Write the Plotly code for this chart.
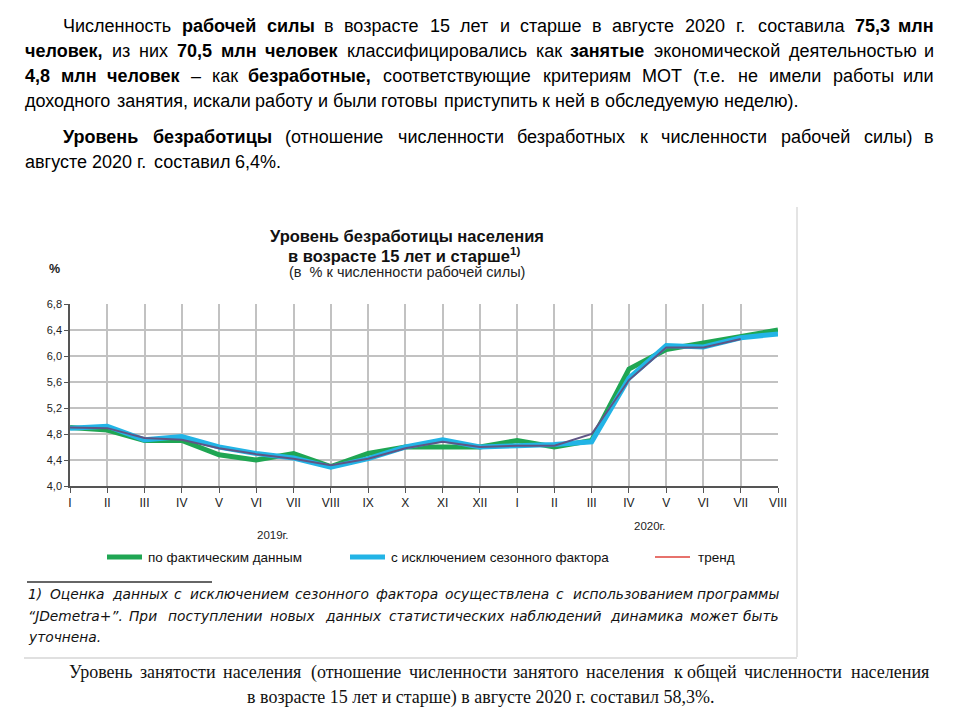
import plotly.graph_objects as go

# ---------------- data ----------------
MONTHS = ["I", "II", "III", "IV", "V", "VI", "VII", "VIII", "IX", "X", "XI", "XII",
          "I", "II", "III", "IV", "V", "VI", "VII", "VIII"]
ACTUAL = [4.9, 4.86, 4.7, 4.7, 4.48, 4.4, 4.5, 4.3, 4.5, 4.6, 4.6, 4.6,
          4.7, 4.6, 4.7, 5.8, 6.1, 6.2, 6.3, 6.4]
SEASONAL = [4.89, 4.92, 4.71, 4.76, 4.6, 4.5, 4.43, 4.29, 4.42, 4.6, 4.71, 4.6,
            4.62, 4.64, 4.68, 5.66, 6.16, 6.14, 6.28, 6.34]
TREND = [4.9, 4.89, 4.74, 4.71, 4.58, 4.49, 4.42, 4.32, 4.42, 4.58, 4.68, 4.6,
         4.62, 4.62, 4.8, 5.63, 6.13, 6.13, 6.26]
Y_TICKS = [4.0, 4.4, 4.8, 5.2, 5.6, 6.0, 6.4, 6.8]
YEARS = ["2019г.", "2020г."]
SERIES_NAMES = ["по фактическим данным", "с исключением сезонного фактора", "тренд"]

TITLE_LINES = ["Уровень безработицы населения", "в возрасте 15 лет и старше<sup>1)</sup>",
               "(в  % к численности рабочей силы)"]

PARA1 = [
    "Численность **рабочей силы** в возрасте 15 лет и старше в августе 2020 г. составила **75,3 млн**",
    "**человек**, из них **70,5 млн человек** классифицировались как **занятые** экономической деятельностью и",
    "**4,8 млн человек** – как **безработные,** соответствующие критериям МОТ (т.е. не имели работы или",
    "доходного занятия, искали работу и были готовы приступить к ней в обследуемую неделю).",
]
PARA2 = [
    "**Уровень безработицы** (отношение численности безработных к численности рабочей силы) в",
    "августе 2020 г. составил 6,4%.",
]
FOOTNOTE = [
    "1) Оценка данных с исключением сезонного фактора осуществлена с использованием программы",
    "“JDemetra+”. При поступлении новых данных статистических наблюдений динамика может быть",
    "уточнена.",
]
BOTTOM = [
    "Уровень занятости населения (отношение численности занятого населения к общей численности населения",
    "в возрасте 15 лет и старше) в августе 2020 г. составил 58,3%.",
]

# ---------------- geometry helpers ----------------
W, H = 962, 723
L, R, T, B = 70, 778, 304, 486
SANS = "Liberation Sans, Arial, sans-serif"
NARROW = "Liberation Sans Narrow, Liberation Sans, Arial, sans-serif"
SERIF = "Liberation Serif, Times New Roman, serif"
FOOT = "DejaVu Sans, Verdana, sans-serif"


def px(x):
    return (x - L) / (R - L)


def py(y):
    return (B - y) / (B - T)


# approximate Arial-metric character widths (per 1000 em)
CW = {}
CW.update(dict(zip("абвгдеёжзийклмнопрстуфхцчшщъыьэюя",
                   [556, 573, 531, 365, 583, 556, 556, 669, 458, 558, 558, 437, 583, 687, 552, 556,
                    542, 556, 500, 458, 500, 823, 500, 573, 521, 802, 823, 625, 719, 521, 510, 750, 542])))
CW.update(dict(zip("АБВГДЕЖЗИКЛМНОПРСТУФХЦЧШЭЮЯ",
                   [667, 656, 667, 542, 677, 667, 923, 604, 719, 583, 656, 833, 719, 778, 719, 667,
                    722, 611, 635, 760, 667, 740, 667, 917, 719, 1010, 722])))
for d in "0123456789":
    CW[d] = 556
CW.update({" ": 278, ",": 278, ".": 278, "(": 333, ")": 333, "%": 889, "–": 556, "-": 333,
           '"': 355, "“": 333, "”": 333, "+": 584, "J": 500, "D": 722, "e": 556, "m": 833,
           "t": 278, "r": 333, "a": 556})


def wlen(word, bold, size, scale):
    s = 0.0
    for ch in word:
        w = CW.get(ch, 556)
        if bold and ch.isalpha():
            w *= 1.08
        s += w
    return s * size / 1000.0 * scale


def words_of(line):
    out = []
    bold = False
    for tok in line.split(" "):
        b = bold
        if tok.startswith("**"):
            tok = tok[2:]
            b = True
            bold = True
        if "**" in tok:
            tok = tok.replace("**", "")
            b = True
            bold = False
        out.append((tok, b))
    return out


annotations = []


def add_text(text, x, y, size, family=SANS, color="#000000", xanchor="left", yanchor="middle"):
    annotations.append(dict(text=text, x=px(x), y=py(y), xref="paper", yref="paper",
                            xanchor=xanchor, yanchor=yanchor, showarrow=False, borderpad=0,
                            font=dict(size=size, family=family, color=color)))


def place_line(line, x0, x1, y, size, family=SANS, scale=1.0, justify=True, italic=False,
               color="#000000"):
    ws = words_of(line)
    widths = [wlen(w, b, size, scale) for w, b in ws]
    n = len(ws)
    if justify and n > 1:
        gap = (x1 - x0 - sum(widths)) / (n - 1)
    else:
        gap = 0.278 * size * scale
    x = x0
    for i, ((w, b), wd) in enumerate(zip(ws, widths)):
        t = w
        if b:
            t = "<b>" + t + "</b>"
        if italic:
            t = "<i>" + t + "</i>"
        if justify and n > 1 and i == n - 1:
            add_text(t, x1, y, size, family, color, xanchor="right")
        else:
            add_text(t, x, y, size, family, color, xanchor="left")
        x += wd + gap


# ---------------- page text ----------------
TXT = 18
LEFT, RIGHT, INDENT = 24, 935, 62
place_line(PARA1[0], INDENT, RIGHT, 26, TXT)
place_line(PARA1[1], LEFT, RIGHT, 51, TXT)
place_line(PARA1[2], LEFT, RIGHT, 76, TXT)
place_line(PARA1[3], LEFT, RIGHT, 101, TXT, justify=False)
place_line(PARA2[0], INDENT, RIGHT, 137, TXT)
place_line(PARA2[1], LEFT, RIGHT, 162, TXT, justify=False)

# footnote
FN = 13.8
place_line(FOOTNOTE[0], 27, 780, 594, FN, family=FOOT, scale=1.12, italic=True, color="#111111")
place_line(FOOTNOTE[1], 27, 780, 616, FN, family=FOOT, scale=1.12, italic=True, color="#111111")
place_line(FOOTNOTE[2], 27, 780, 637, FN, family=FOOT, scale=1.12, justify=False, italic=True,
           color="#111111")

# bottom serif text
place_line(BOTTOM[0], 68, 930, 672, 18, family=SERIF, scale=0.93, color="#111111")
add_text(BOTTOM[1], 480, 697, 18, SERIF, "#111111", xanchor="center")

# chart title
add_text("<b>" + TITLE_LINES[0] + "</b>", 407, 236, 16.5, SANS, "#111111", xanchor="center")
add_text("<b>" + TITLE_LINES[1] + "</b>", 404, 255, 16.5, SANS, "#111111", xanchor="center")
add_text(TITLE_LINES[2], 407, 272, 14.5, SANS, "#222222", xanchor="center")
add_text("<b>%</b>", 54, 269, 12.5, SANS, "#222222", xanchor="center")

# year labels
add_text(YEARS[0], 273, 535, 11.5, NARROW, "#222222", xanchor="center")
add_text(YEARS[1], 650, 526, 11.5, NARROW, "#222222", xanchor="center")

# legend
GREEN, BLUE, RED, TRENDC = "#1fa653", "#22b4e6", "#e7726c", "#5f5585"
shapes = []
leg = [(107, 142, GREEN, 5, SERIES_NAMES[0], 147),
       (350, 385, BLUE, 5, SERIES_NAMES[1], 390),
       (655, 690, RED, 2, SERIES_NAMES[2], 697)]
for xa, xb, col, wd, name, tx in leg:
    shapes.append(dict(type="line", xref="paper", yref="paper", x0=px(xa), x1=px(xb),
                       y0=py(557), y1=py(557), line=dict(color=col, width=wd)))
    add_text(name, tx, 557, 13.5, SANS, "#111111")

# footnote separator and chart frame edges
shapes.append(dict(type="line", xref="paper", yref="paper", x0=px(27), x1=px(212),
                   y0=py(582), y1=py(582), line=dict(color="#333333", width=1.5)))
shapes.append(dict(type="line", xref="paper", yref="paper", x0=px(797), x1=px(797),
                   y0=py(207), y1=py(657), line=dict(color="#e4e4e4", width=2)))
shapes.append(dict(type="line", xref="paper", yref="paper", x0=px(24), x1=px(797),
                   y0=py(658), y1=py(658), line=dict(color="#e0e0e0", width=2)))

# ---------------- traces ----------------
xs = list(range(len(MONTHS)))
fig = go.Figure()
fig.add_trace(go.Scatter(x=xs, y=ACTUAL, mode="lines", name=SERIES_NAMES[0],
                         line=dict(color=GREEN, width=5), hoverinfo="skip"))
fig.add_trace(go.Scatter(x=xs, y=SEASONAL, mode="lines", name=SERIES_NAMES[1],
                         line=dict(color=BLUE, width=5), hoverinfo="skip"))
fig.add_trace(go.Scatter(x=list(range(len(TREND))), y=TREND, mode="lines", name=SERIES_NAMES[2],
                         line=dict(color=TRENDC, width=2), hoverinfo="skip"))

fig.update_layout(
    width=W, height=H, autosize=False,
    margin=dict(l=L, r=W - R, t=T, b=H - B, pad=0),
    paper_bgcolor="white", plot_bgcolor="white",
    showlegend=False, separators=", ",
    annotations=annotations, shapes=shapes,
    xaxis=dict(range=[0, len(MONTHS) - 1], tickmode="array", tickvals=xs, ticktext=MONTHS,
               showgrid=True, gridcolor="#c2c2c2", gridwidth=2, zeroline=False,
               showline=True, linecolor="#555555", linewidth=1.5,
               ticks="outside", ticklen=5, tickcolor="#555555", tickwidth=1,
               tickfont=dict(family=NARROW, size=12, color="#222222")),
    yaxis=dict(range=[Y_TICKS[0], Y_TICKS[-1]], tickmode="array", tickvals=Y_TICKS,
               tickformat=".1f", showgrid=True, gridcolor="#c2c2c2", gridwidth=2,
               zeroline=False, showline=True, linecolor="#555555", linewidth=1.5,
               ticks="outside", ticklen=4, tickcolor="#555555", tickwidth=1,
               tickfont=dict(family=NARROW, size=11, color="#222222")),
)

fig.write_html("out.html")
